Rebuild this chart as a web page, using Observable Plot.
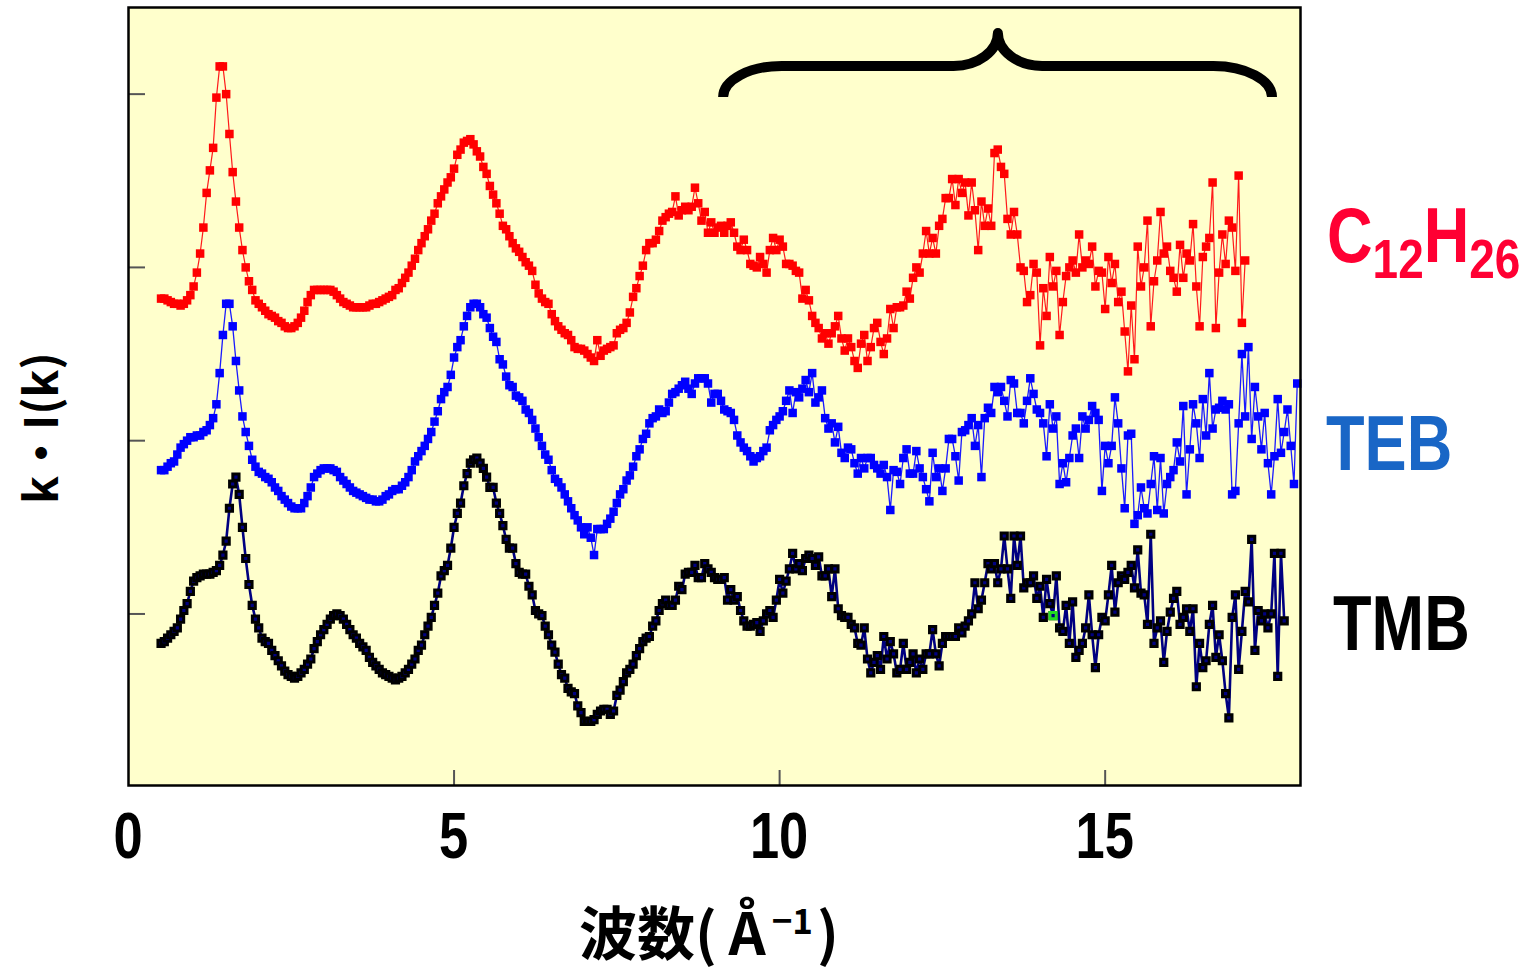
<!DOCTYPE html>
<html>
<head>
<meta charset="utf-8">
<script src="https://cdn.jsdelivr.net/npm/d3@7"></script>
<script src="https://cdn.jsdelivr.net/npm/@observablehq/plot@0.6"></script>
<style>
  html, body { margin: 0; padding: 0; background: #ffffff; }
  #chart svg { display: block; }
</style>
</head>
<body>
<div id="chart"></div>
<script>
// ---------------- DATA ----------------
// wave number grid: k = kStart + i * kStep  (Å^-1)
const kStart = 0.5;
const kStep = 0.05;

// C12H26 (red), k = 0.50 … 17.15
const c12h26Values = [
  1.82,1.82,1.81,1.80,1.79,1.79,1.78,1.79,1.81,1.84,
  1.89,1.97,2.08,2.23,2.43,2.56,2.69,2.98,3.16,3.16,
  3.00,2.77,2.55,2.38,2.23,2.10,2.00,1.92,1.87,1.81,
  1.79,1.77,1.75,1.73,1.72,1.71,1.69,1.68,1.66,1.65,
  1.65,1.66,1.68,1.71,1.75,1.80,1.84,1.87,1.87,1.87,
  1.87,1.87,1.87,1.86,1.84,1.82,1.80,1.79,1.78,1.77,
  1.77,1.77,1.77,1.77,1.78,1.79,1.79,1.80,1.81,1.82,
  1.83,1.84,1.87,1.88,1.91,1.94,1.97,2.01,2.05,2.10,
  2.14,2.18,2.22,2.27,2.31,2.37,2.41,2.45,2.49,2.52,
  2.57,2.65,2.68,2.72,2.73,2.74,2.71,2.67,2.64,2.58,
  2.54,2.47,2.42,2.37,2.31,2.24,2.22,2.18,2.14,2.11,
  2.09,2.06,2.03,2.01,1.98,1.90,1.85,1.82,1.80,1.79,
  1.73,1.69,1.66,1.64,1.62,1.61,1.58,1.54,1.53,1.53,
  1.52,1.50,1.48,1.46,1.58,1.49,1.52,1.53,1.54,1.55,
  1.62,1.64,1.65,1.68,1.74,1.83,1.88,1.95,2.01,2.10,
  2.14,2.14,2.16,2.21,2.27,2.29,2.31,2.32,2.41,2.30,
  2.33,2.35,2.33,2.35,2.46,2.37,2.27,2.32,2.20,2.26,
  2.20,2.23,2.24,2.20,2.24,2.26,2.20,2.12,2.10,2.16,
  2.10,2.02,2.01,2.00,2.06,2.02,1.97,2.10,2.17,2.10,
  2.16,
  2.12,2.02,2.02,2.01,1.98,1.97,1.82,1.87,1.81,1.72,
  1.68,1.65,1.59,1.62,1.56,1.62,1.66,1.72,1.59,1.52,
  1.59,1.54,1.46,1.42,1.56,1.61,1.46,1.54,1.65,1.68,
  1.57,1.50,1.59,1.76,1.65,1.77,1.77,1.78,1.86,1.82,
  1.94,2.00,1.97,2.08,2.21,2.08,2.17,2.08,2.24,2.28,
  2.40,2.40,2.51,2.36,2.51,2.43,2.49,2.30,2.49,2.33,
  2.10,2.38,2.24,2.34,2.24,2.66,2.68,2.58,2.54,2.28,
  2.19,2.32,2.19,2.00,1.98,1.80,1.84,2.02,1.97,1.55,
  1.88,1.72,2.06,1.89,1.98,1.61,1.80,1.95,2.00,2.04,
  1.97,2.19,2.00,2.04,2.02,2.12,1.89,1.98,1.97,1.76,
  2.06,1.91,2.02,1.80,1.86,1.63,1.40,1.78,1.47,2.12,
  1.89,2.00,2.27,1.66,1.92,2.04,2.32,2.08,2.12,1.98,
  1.94,1.86,2.13,1.94,2.08,2.04,2.25,1.89,1.66,2.06,
  2.12,2.17,2.49,1.65,1.97,2.19,2.02,2.27,2.23,1.98,
  2.53,1.68,2.04
];

// TEB (blue), k = 0.50 … 17.95
const tebValues = [
  0.83,0.83,0.85,0.87,0.88,0.92,0.96,0.98,1.00,1.02,
  1.02,1.03,1.03,1.05,1.06,1.09,1.13,1.21,1.39,1.61,
  1.79,1.79,1.66,1.46,1.29,1.14,1.05,0.97,0.89,0.85,
  0.82,0.81,0.79,0.78,0.76,0.73,0.71,0.68,0.66,0.64,
  0.62,0.61,0.61,0.61,0.64,0.68,0.73,0.79,0.81,0.83,
  0.84,0.84,0.84,0.83,0.82,0.79,0.77,0.75,0.73,0.71,
  0.70,0.69,0.68,0.67,0.66,0.66,0.65,0.65,0.66,0.68,
  0.69,0.71,0.72,0.72,0.74,0.76,0.79,0.83,0.88,0.91,
  0.94,0.97,1.01,1.05,1.11,1.17,1.24,1.28,1.31,1.38,
  1.48,1.54,1.58,1.66,1.72,1.77,1.79,1.79,1.77,1.73,
  1.71,1.65,1.60,1.57,1.47,1.44,1.37,1.32,1.31,1.26,
  1.25,1.23,1.18,1.16,1.12,1.07,1.02,0.97,0.92,0.89,
  0.83,0.78,0.76,0.73,0.69,0.65,0.61,0.57,0.54,0.50,
  0.46,0.50,0.44,0.34,0.49,0.49,0.49,0.52,0.55,0.59,
  0.64,0.69,0.72,0.77,0.80,0.85,0.91,0.95,1.01,1.04,
  1.10,1.13,1.14,1.18,1.16,1.17,1.22,1.27,1.28,1.30,
  1.32,1.34,1.30,1.27,1.33,1.36,1.36,1.36,1.33,1.22,
  1.27,1.27,1.23,1.18,1.17,1.16,1.12,1.03,0.99,0.96,
  0.94,0.91,0.88,0.90,0.91,0.94,0.96,1.06,1.09,1.12,
  1.14,1.17,1.23,1.29,1.16,1.28,1.25,1.30,1.35,1.28,
  1.39,1.22,1.25,1.29,1.13,1.07,1.10,0.99,1.08,0.93,
  0.90,0.96,0.95,0.87,0.81,0.90,0.84,0.90,0.90,0.86,
  0.84,0.81,0.86,
  0.79,0.60,0.83,0.82,0.75,0.90,0.95,0.81,0.81,0.94,
  0.84,0.79,0.72,0.65,0.93,0.79,0.84,0.71,0.84,1.01,
  1.01,0.91,0.77,1.05,1.06,1.09,1.13,0.97,1.09,0.79,
  1.13,1.19,1.16,1.31,1.28,1.31,1.23,1.14,1.35,1.33,
  1.16,1.16,1.10,1.23,1.36,1.27,1.18,1.16,1.10,0.91,
  1.21,1.07,1.14,0.75,0.87,0.76,0.90,1.03,1.07,0.90,
  1.14,1.07,1.12,1.20,1.16,1.12,0.71,0.97,0.87,0.97,
  1.25,1.10,0.84,0.61,1.03,1.04,0.52,0.57,0.73,0.61,
  0.58,0.75,0.91,0.60,0.90,0.58,0.75,0.79,0.83,0.99,
  0.88,1.20,0.69,0.95,1.21,1.10,0.90,1.24,1.03,1.39,
  1.07,1.18,1.19,1.23,1.18,1.21,0.69,0.71,1.10,1.50,
  1.14,1.54,1.01,1.31,1.14,0.95,1.16,0.87,0.69,0.91,
  1.24,0.93,1.05,1.18,0.97,0.75,1.33
];

// TMB (black), k = 0.50 … 17.75
const tmbValues = [
  -0.17,-0.16,-0.14,-0.12,-0.10,-0.08,-0.03,0.02,0.06,0.13,
  0.19,0.21,0.22,0.23,0.23,0.23,0.24,0.25,0.28,0.34,
  0.42,0.61,0.75,0.79,0.69,0.50,0.32,0.17,0.05,-0.03,
  -0.08,-0.14,-0.16,-0.17,-0.21,-0.24,-0.27,-0.30,-0.33,-0.35,
  -0.36,-0.37,-0.36,-0.34,-0.32,-0.29,-0.26,-0.20,-0.16,-0.12,
  -0.09,-0.06,-0.03,-0.01,0.00,-0.01,-0.03,-0.06,-0.09,-0.12,
  -0.14,-0.17,-0.19,-0.21,-0.25,-0.28,-0.30,-0.32,-0.34,-0.35,
  -0.36,-0.37,-0.38,-0.37,-0.36,-0.34,-0.32,-0.29,-0.26,-0.21,
  -0.18,-0.12,-0.07,-0.02,0.05,0.12,0.22,0.25,0.28,0.38,
  0.50,0.58,0.64,0.74,0.81,0.87,0.89,0.90,0.87,0.84,
  0.79,0.73,0.73,0.64,0.58,0.51,0.43,0.38,0.38,0.29,
  0.24,0.23,0.23,0.16,0.11,0.02,0.00,-0.01,-0.07,-0.12,
  -0.18,-0.22,-0.29,-0.35,-0.37,-0.43,-0.45,-0.46,-0.53,-0.57,
  -0.62,-0.62,-0.62,-0.61,-0.58,-0.56,-0.55,-0.55,-0.58,-0.56,
  -0.47,-0.44,-0.39,-0.34,-0.32,-0.29,-0.24,-0.20,-0.16,-0.14,
  -0.13,-0.07,-0.04,0.02,0.06,0.08,0.05,0.05,0.08,0.16,
  0.14,0.23,0.24,0.24,0.28,0.21,0.21,0.29,0.26,0.24,
  0.21,0.20,0.20,0.21,0.08,0.14,0.08,0.10,0.02,-0.04,
  -0.07,-0.07,-0.06,-0.05,-0.10,-0.04,0.00,0.02,-0.02,0.08,
  0.20,0.12,0.19,0.26,0.35,0.26,0.29,0.25,0.32,0.34,
  0.32,0.28,0.33,0.22,0.22,0.26,0.10,0.26,0.03,-0.01,
  -0.02,-0.02,-0.06,-0.08,-0.17,-0.18,-0.08,-0.26,-0.34,-0.28,
  -0.24,-0.32,-0.13,-0.26,-0.16,-0.23,-0.34,-0.32,-0.17,-0.32,
  -0.28,-0.23,-0.34,-0.26,-0.32,-0.23,-0.23,-0.09,-0.23,-0.30,
  -0.17,-0.13,-0.13,-0.13,-0.13,-0.08,-0.11,-0.07,-0.04,0.00,
  0.18,0.03,0.08,0.18,0.29,0.26,0.29,
  0.18,0.26,0.45,0.26,0.09,0.45,0.28,0.45,0.15,0.18,
  0.18,0.22,0.09,0.16,-0.02,0.20,0.06,-0.01,0.22,-0.08,
  -0.10,0.05,-0.17,0.07,-0.25,-0.21,-0.17,-0.08,0.11,-0.12,
  -0.31,-0.12,-0.02,-0.04,0.11,0.28,0.01,0.18,0.22,0.20,
  0.24,0.28,0.15,0.37,0.12,0.11,-0.06,0.46,-0.17,-0.08,
  -0.04,-0.28,-0.10,0.01,0.09,0.13,-0.06,-0.02,0.03,-0.10,
  0.03,-0.42,-0.17,-0.31,-0.27,-0.06,0.05,-0.25,-0.12,-0.27,
  -0.46,-0.60,-0.02,0.11,-0.32,-0.10,0.13,0.07,0.43,-0.21,
  0.02,-0.04,0.00,-0.08,0.00,0.35,-0.36,0.35,-0.04
];

const xTickValues = [0, 5, 10, 15];
const yTickValues = [0, 1, 2, 3];
const highlightK = 14.2;           // the one green-marked TMB point
const xDomain = [0, 18];
const yDomain = [-0.99, 3.5];

// brace annotation (data units)
const braceK = [9.14, 13.36, 17.57];   // left end, tip, right end
const braceV = [2.98, 3.16, 3.35];     // ends, bar, tip

// ---------------- LAYOUT ----------------
const W = 1532, H = 974;
const ML = 128, MR = 232, MT = 7, MB = 189;
const plotW = W - ML - MR, plotH = H - MT - MB;

function toRows(name, values) {
  return values.map((v, i) => ({series: name, k: +(kStart + i * kStep).toFixed(2), v}));
}
const rowsC = toRows("C12H26", c12h26Values);
const rowsT = toRows("TEB", tebValues);
const rowsM = toRows("TMB", tmbValues);

function fontAvailable(name) {
  const c = document.createElement("canvas").getContext("2d");
  const s = "TEB C H 0123456789";
  c.font = "40px monospace"; const a = c.measureText(s).width;
  c.font = `40px '${name}', monospace`; const b = c.measureText(s).width;
  return Math.abs(a - b) > 0.5;
}
const hasNarrow = fontAvailable("Liberation Sans Narrow");
const narrowFamily = hasNarrow ? "'Liberation Sans Narrow', sans-serif" : "'Liberation Sans', Arial, sans-serif";
const narrowScale = hasNarrow ? 1 : 0.82;
const cjk = "'Noto Sans CJK JP', 'Noto Sans CJK SC', sans-serif";

const legendItems = [
  {parts: [["C", false], ["12", true], ["H", false], ["26", true]], color: "#ff0033", dx: 27, level: 2.03},
  {parts: [["TEB", false]], color: "#1966c6", dx: 26, level: 0.83},
  {parts: [["TMB", false]], color: "#000000", dx: 33, level: -0.21}
];

function annotations(index, scales, values, dims) {
  const sx = scales.x, sy = scales.y;
  const g = d3.create("svg:g");

  // brace
  const xL = sx(braceK[0]), xM = sx(braceK[1]), xR = sx(braceK[2]);
  const yE = sy(braceV[0]), yB = sy(braceV[1]), yT = sy(braceV[2]);
  const r1 = sx(braceK[0] + 0.9) - xL, r2 = sx(braceK[1]) - sx(braceK[1] - 0.68);
  const c = 0.55;
  const path = [
    `M${xL},${yE}`,
    `C${xL},${yE - (yE - yB) * c} ${xL + r1 * (1 - c)},${yB} ${xL + r1},${yB}`,
    `L${xM - r2},${yB}`,
    `C${xM - r2 * (1 - c)},${yB} ${xM},${yB - (yB - yT) * (1 - c)} ${xM},${yT}`,
    `C${xM},${yB - (yB - yT) * (1 - c)} ${xM + r2 * (1 - c)},${yB} ${xM + r2},${yB}`,
    `L${xR - r1},${yB}`,
    `C${xR - r1 * (1 - c)},${yB} ${xR},${yE - (yE - yB) * c} ${xR},${yE}`
  ].join(" ");
  g.append("path").attr("d", path).attr("fill", "none").attr("stroke", "#000")
    .attr("stroke-width", 10).attr("stroke-linejoin", "round").attr("stroke-linecap", "butt");

  // x tick labels
  const yAxis = dims.height - dims.marginBottom;
  for (const t of xTickValues) {
    g.append("text")
      .attr("transform", `translate(${sx(t)},${yAxis + 73}) scale(${narrowScale},1)`)
      .attr("text-anchor", "middle").attr("font-family", narrowFamily)
      .attr("font-weight", "bold").attr("font-size", 64).attr("fill", "#000")
      .text(String(t));
  }

  // x axis title
  const xt = g.append("text")
    .attr("x", (dims.marginLeft + dims.width - dims.marginRight) / 2 - 5)
    .attr("y", yAxis + 170)
    .attr("text-anchor", "middle").attr("font-family", cjk)
    .attr("font-weight", "bold").attr("font-size", 58).attr("fill", "#000");
  xt.append("tspan").text("波数(\u2009Å");
  xt.append("tspan").attr("font-size", 35).attr("dy", -21).attr("dx", 6).text("−1");
  xt.append("tspan").attr("dy", 21).attr("dx", 4).text(")");

  // y axis title
  g.append("text")
    .attr("transform", `translate(58,${dims.marginTop + 421}) rotate(-90)`)
    .attr("text-anchor", "middle").attr("font-family", cjk)
    .attr("font-weight", "bold").attr("font-size", 46).attr("fill", "#000")
    .text("k・I(k)");

  // series labels
  const xRight = dims.width - dims.marginRight;
  for (const item of legendItems) {
    const t = g.append("text")
      .attr("transform", `translate(${xRight + item.dx},${sy(item.level)}) scale(${narrowScale},1)`)
      .attr("text-anchor", "start")
      .attr("font-family", narrowFamily).attr("font-weight", "bold")
      .attr("font-size", 77).attr("fill", item.color);
    let sub = false;
    for (const [s, isSub] of item.parts) {
      const ts = t.append("tspan").text(s);
      if (isSub) ts.attr("font-size", 56).attr("dy", sub ? 0 : 16);
      else ts.attr("dy", sub ? -16 : 0);
      sub = isSub;
    }
  }
  return g.node();
}

const plot = Plot.plot({
  width: W, height: H,
  marginLeft: ML, marginRight: MR, marginTop: MT, marginBottom: MB,
  x: {domain: xDomain, axis: null},
  y: {domain: yDomain, axis: null},
  style: {background: "transparent", overflow: "visible"},
  marks: [
    Plot.frame({fill: "#ffffcc", stroke: null}),
    Plot.tickY(yTickValues, {y: d => d, stroke: "#555", strokeWidth: 2, insetRight: plotW - 17}),
    Plot.tickX(xTickValues.filter(d => d > 0), {x: d => d, stroke: "#555", strokeWidth: 2, insetTop: plotH - 15}),
    Plot.line(rowsC, {x: "k", y: "v", stroke: "#ff1a1a", strokeWidth: 1.2}),
    Plot.dot(rowsC, {x: "k", y: "v", symbol: "square", r: 4.8, fill: "#ff0000", stroke: null}),
    Plot.line(rowsT, {x: "k", y: "v", stroke: "#1a1aff", strokeWidth: 1.3}),
    Plot.dot(rowsT, {x: "k", y: "v", symbol: "square", r: 4.8, fill: "#0000ff", stroke: null}),
    Plot.line(rowsM, {x: "k", y: "v", stroke: "#000080", strokeWidth: 2.6}),
    Plot.dot(rowsM, {x: "k", y: "v", symbol: "square", r: 3.5, fill: "#000080", stroke: "#000", strokeWidth: 3}),
    Plot.dot(rowsM.filter(d => d.k === highlightK), {x: "k", y: "v", symbol: "square", r: 3.5, fill: "#000080", stroke: "#22dd22", strokeWidth: 3}),
    Plot.frame({stroke: "#000", strokeWidth: 2.5}),
    annotations
  ]
});

document.getElementById("chart").appendChild(plot);
</script>
</body>
</html>
